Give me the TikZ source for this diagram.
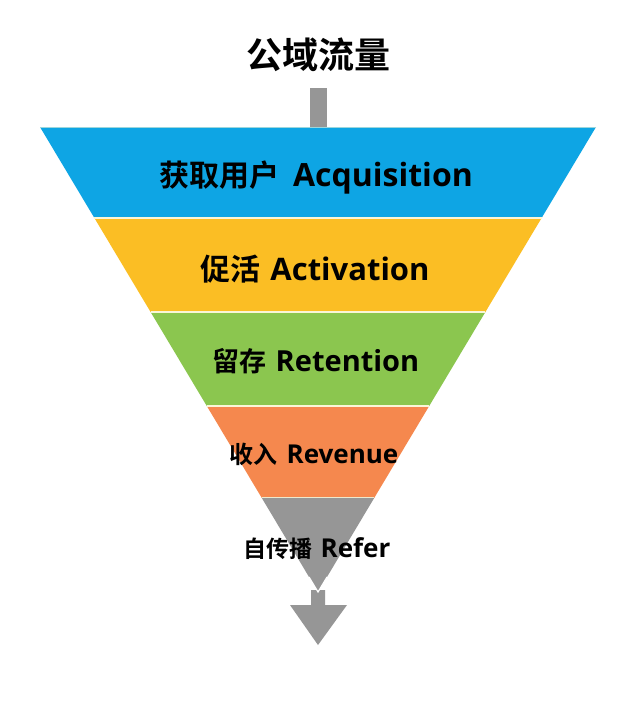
\documentclass[tikz,border=0pt]{standalone}
\usepackage{fontspec}
\setmainfont{Noto Sans CJK SC}[BoldFont={* Bold}]
\newfontfamily\latf{Open Sans}[BoldFont={* Bold}]
\newfontfamily\cjkf{Noto Sans CJK SC}[BoldFont={* Bold}]
\usetikzlibrary{calc}
\definecolor{cblue}{RGB}{14,165,228}
\definecolor{cyellow}{RGB}{251,190,36}
\definecolor{cgreen}{RGB}{139,198,79}
\definecolor{corange}{RGB}{245,136,78}
\definecolor{cgray}{RGB}{150,150,150}
\definecolor{cdiv}{RGB}{250,246,215}
\newcommand{\lbltext}[5]{{\cjkf\bfseries\fontsize{#1}{#1}\selectfont #3}\hspace{#5}{\latf\bfseries\fontsize{#2}{#2}\selectfont #4}}
\tikzset{
  lbl/.style={text=black, inner sep=0pt, anchor=base},
  divider/.style={draw=cdiv, line width=2pt},
}
\begin{document}
\begin{tikzpicture}[x=1pt,y=-1pt]
\fill[white] (0,0) rectangle (640,706);
\useasboundingbox (0,0) rectangle (640,706);
\coordinate (L0) at (40,127);
\coordinate (R0) at (596,127);
\coordinate (apex) at (318,592);
\foreach \n/\f in {1/0.1957,2/0.3978,3/0.6,4/0.7978}{
  \coordinate (L\n) at ($(L0)!\f!(apex)$);
  \coordinate (R\n) at ($(R0)!\f!(apex)$);
}
% bands
\fill[cblue] (L0) -- (R0) -- (R1) -- (L1) -- cycle;
\fill[cyellow] (L1) -- (R1) -- (R2) -- (L2) -- cycle;
\fill[cgreen] (L2) -- (R2) -- (R3) -- (L3) -- cycle;
\fill[corange] (L3) -- (R3) -- (R4) -- (L4) -- cycle;
\foreach \n in {1,2,3,4}{\draw[divider] (L\n) -- (R\n);}
\draw[draw=cdiv!60!cblue, line width=1pt] (L0) -- (R0);
% top bar
\fill[cgray] (310,88) rectangle (327,127);
% bottom arrow
\fill[cgray] (311,590) -- (325,590) -- (325,605) -- (347,605) -- (318,645) -- (290,605) -- (311,605) -- cycle;
\fill[cgray] (L4) -- (R4) -- (apex) -- cycle;
\draw[draw=white, line width=1.2pt] ($(apex)+(-9,-15)$) -- (apex) -- ($(apex)+(9,-15)$);
% labels
\node[font=\cjkf\bfseries\fontsize{36}{36}\selectfont, inner sep=0pt] (title) at (318,55) {公域流量};
\node[lbl] (acq) at (316,186) {\lbltext{30}{32}{获取用户}{Acquisition}{14pt}};
\node[lbl] (act) at (315,280) {\lbltext{30}{31}{促活}{Activation}{10pt}};
\node[lbl] (ret) at (316,371) {\lbltext{27}{29}{留存}{Retention}{9pt}};
\node[lbl] (rev) at (314,463) {\lbltext{24}{26}{收入}{Revenue}{9pt}};
\node[lbl] (ref) at (317,557) {\lbltext{23}{26}{自传播}{Refer}{8pt}};
\end{tikzpicture}
\end{document}
